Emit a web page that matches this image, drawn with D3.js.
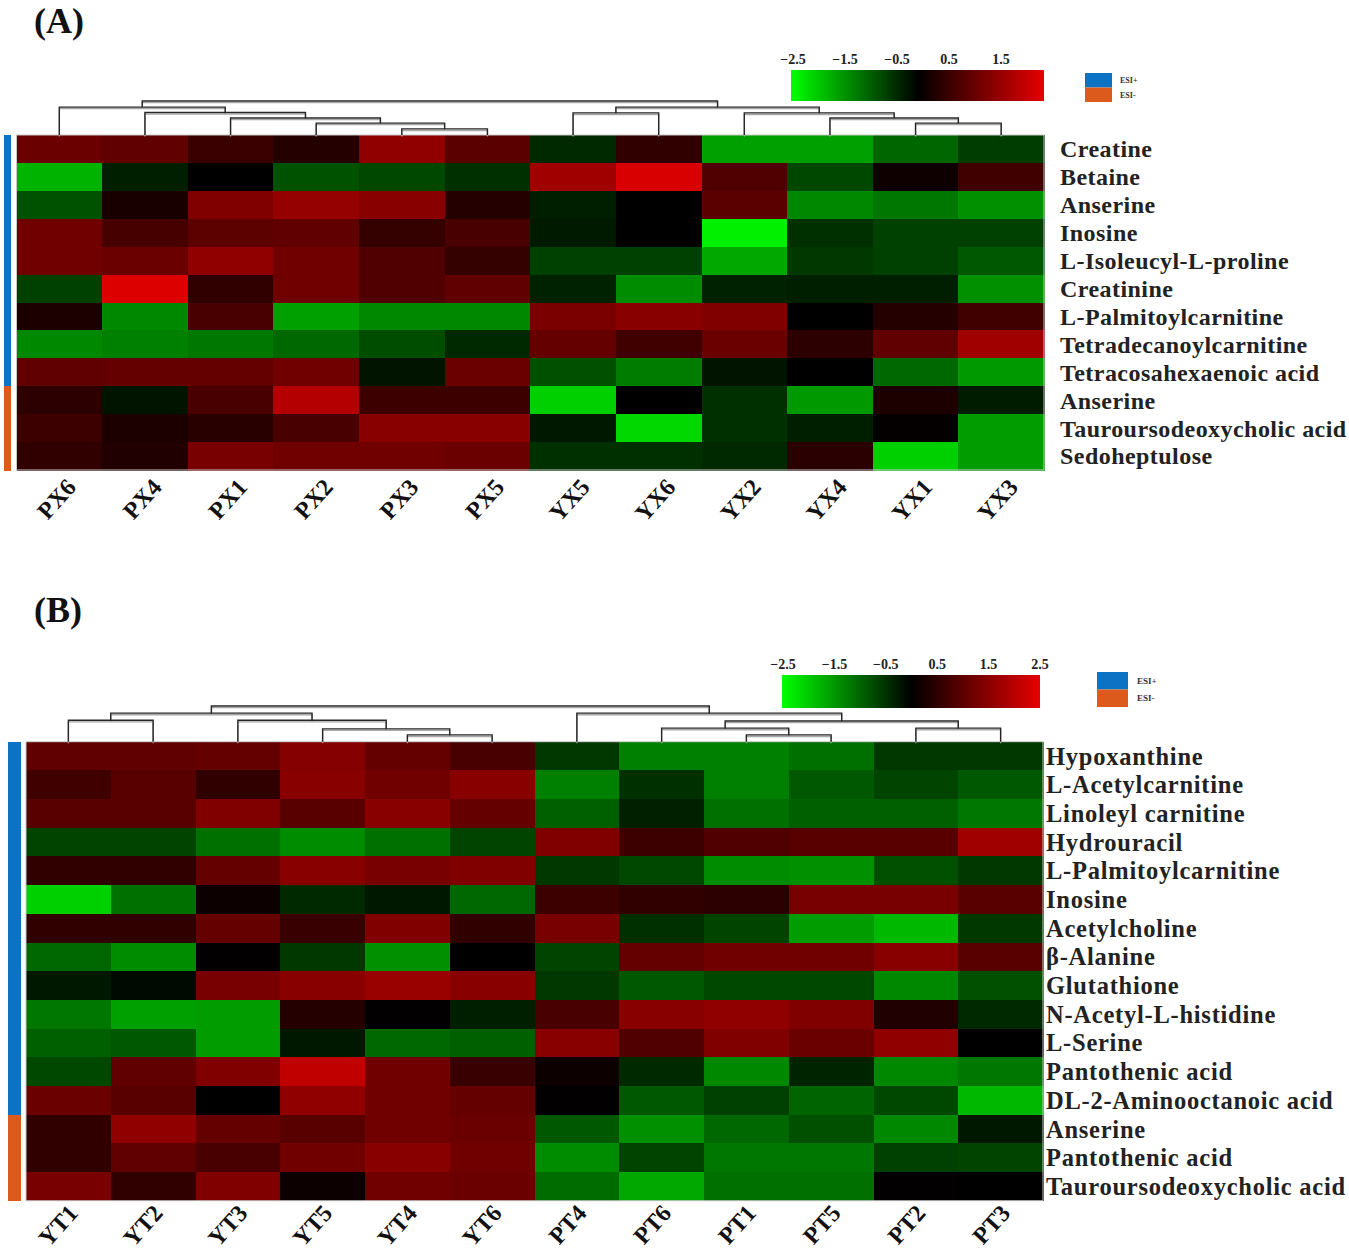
<!DOCTYPE html>
<html>
<head>
<meta charset="utf-8">
<script src="https://cdn.jsdelivr.net/npm/d3@7"></script>
<style>
  html, body { margin: 0; padding: 0; background: #fff; }
  svg { display: block; }
  text { font-family: "Liberation Serif", "Times New Roman", serif; }
</style>
</head>
<body>
<svg id="chart" width="1349" height="1258"></svg>
<script>
// ---------------- DATA ----------------
// Panel A
const colsA = ["PX6","PX4","PX1","PX2","PX3","PX5","YX5","YX6","YX2","YX4","YX1","YX3"];
const rowsA = ["Creatine","Betaine","Anserine","Inosine","L-Isoleucyl-L-proline","Creatinine",
  "L-Palmitoylcarnitine","Tetradecanoylcarnitine","Tetracosahexaenoic acid","Anserine",
  "Tauroursodeoxycholic acid","Sedoheptulose"];
const ionA = ["ESI+","ESI+","ESI+","ESI+","ESI+","ESI+","ESI+","ESI+","ESI+","ESI-","ESI-","ESI-"];
const valuesA = [
  [ 1.15, 1.05, 0.63, 0.40, 1.57, 0.98, -0.40, 0.52, -1.57, -1.57, -1.00, -0.60],
  [-1.75,-0.30, 0.00,-0.80,-0.70,-0.47,  1.74, 2.35,  0.87, -0.70,  0.16,  0.70],
  [-0.80, 0.26, 1.39, 1.62, 1.48, 0.40, -0.30, 0.00,  0.98, -1.33, -1.18, -1.41],
  [ 1.22, 0.76, 1.00, 1.05, 0.57, 0.78, -0.25, 0.00, -2.35, -0.47, -0.63, -0.63],
  [ 1.22, 1.15, 1.57, 1.22, 0.87, 0.57, -0.63,-0.63, -1.65, -0.55, -0.63, -0.86],
  [-0.63, 2.40, 0.52, 1.22, 0.87, 1.05, -0.33,-1.37, -0.33, -0.30, -0.30, -1.41],
  [ 0.30,-1.33, 0.78,-1.57,-1.33,-1.33,  1.33, 1.48,  1.39,  0.00,  0.40,  0.70],
  [-1.33,-1.25,-1.18,-1.02,-0.75,-0.40,  1.10, 0.70,  1.15,  0.48,  1.05,  1.74],
  [ 1.05, 1.10, 1.10, 1.22,-0.20, 1.15, -0.78,-1.22, -0.20,  0.00, -1.02, -1.50],
  [ 0.48,-0.20, 0.78, 1.96, 0.65, 0.65, -2.04, 0.00, -0.47, -1.50,  0.30, -0.27],
  [ 0.65, 0.30, 0.43, 0.78, 1.48, 1.48, -0.24,-2.12, -0.47, -0.30,  0.05, -1.53],
  [ 0.52, 0.35, 1.30, 1.22, 1.22, 1.15, -0.47,-0.47, -0.40,  0.46, -2.04, -1.53]
];
// column dendrogram A: [mergeHeight, left, right]; leaves are column names
const colTreeA = [1.0,
  [0.82, "PX6", [0.66, "PX4", [0.5, "PX1", [0.35, "PX2", [0.18, "PX3", "PX5"]]]]],
  [0.82, [0.65, "YX5", "YX6"], [0.65, "YX2", [0.5, "YX4", [0.35, "YX1", "YX3"]]]]
];
const legendTicksA = [-2.5, -1.5, -0.5, 0.5, 1.5];

// Panel B
const colsB = ["YT1","YT2","YT3","YT5","YT4","YT6","PT4","PT6","PT1","PT5","PT2","PT3"];
const rowsB = ["Hypoxanthine","L-Acetylcarnitine","Linoleyl carnitine","Hydrouracil",
  "L-Palmitoylcarnitine","Inosine","Acetylcholine","\u03B2-Alanine","Glutathione",
  "N-Acetyl-L-histidine","L-Serine","Pantothenic acid","DL-2-Aminooctanoic acid",
  "Anserine","Pantothenic acid","Tauroursodeoxycholic acid"];
const ionB = ["ESI+","ESI+","ESI+","ESI+","ESI+","ESI+","ESI+","ESI+","ESI+","ESI+","ESI+","ESI+","ESI+",
  "ESI-","ESI-","ESI-"];
const valuesB = [
  [ 1.05, 1.05, 1.10, 1.45, 1.10, 0.78, -0.55,-1.25,-1.25,-1.10,-0.55,-0.55],
  [ 0.70, 0.96, 0.52, 1.48, 1.22, 1.48, -1.25,-0.47,-1.25,-0.86,-0.67,-0.86],
  [ 0.96, 0.96, 1.39, 0.96, 1.48, 1.10, -0.94,-0.31,-1.10,-0.94,-0.94,-1.18],
  [-0.67,-0.67,-1.10,-1.37,-1.10,-0.67,  1.39, 0.65, 0.87, 0.96, 0.96, 1.74],
  [ 0.52, 0.52, 1.10, 1.48, 1.30, 1.39, -0.55,-0.70,-1.37,-1.41,-0.78,-0.55],
  [-2.04,-1.10, 0.13,-0.40,-0.24,-1.02,  0.65, 0.52, 0.48, 1.30, 1.30, 0.96],
  [ 0.52, 0.52, 1.10, 0.61, 1.39, 0.52,  1.30,-0.47,-0.67,-1.53,-1.80,-0.55],
  [-1.02,-1.37, 0.02,-0.55,-1.41, 0.00, -0.67, 1.10, 1.22, 1.22, 1.48, 0.96],
  [-0.24,-0.10, 1.30, 1.48, 1.66, 1.48, -0.55,-0.86,-0.70,-0.70,-1.33,-0.78],
  [-1.18,-1.57,-1.53, 0.40, 0.02,-0.30,  0.78, 1.48, 1.57, 1.39, 0.35,-0.40],
  [-0.94,-0.86,-1.53,-0.24,-1.02,-0.94,  1.48, 0.87, 1.39, 1.15, 1.57, 0.00],
  [-0.70, 1.05, 1.39, 2.09, 1.22, 0.61,  0.13,-0.40,-1.33,-0.35,-1.33,-1.18],
  [ 1.15, 0.96, 0.00, 1.57, 1.22, 1.10,  0.02,-0.86,-0.63,-0.98,-0.70,-1.80],
  [ 0.52, 1.57, 1.10, 0.96, 1.22, 1.15, -0.86,-1.41,-1.02,-0.78,-1.33,-0.24],
  [ 0.52, 1.05, 0.78, 1.22, 1.48, 1.22, -1.37,-0.67,-1.18,-1.18,-0.63,-0.67],
  [ 1.30, 0.52, 1.39, 0.13, 1.22, 1.15, -1.06,-1.65,-1.10,-1.10, 0.02, 0.00]
];
const colTreeB = [1.0,
  [0.8, [0.6, "YT1", "YT2"], [0.6, "YT3", [0.36, "YT5", [0.19, "YT4", "YT6"]]]],
  [0.8, "PT4", [0.58, [0.38, "PT6", [0.19, "PT1", "PT5"]], [0.38, "PT2", "PT3"]]]
];
const legendTicksB = [-2.5, -1.5, -0.5, 0.5, 1.5, 2.5];

const ionTypes = ["ESI+", "ESI-"];

// ---------------- STYLE / LAYOUT ----------------
const color = d3.scaleLinear()
  .domain([-2.5, 0, 2.5])
  .range(["#00ff00", "#000000", "#e60000"])
  .clamp(true);
const ionColor = d3.scaleOrdinal().domain(ionTypes).range(["#0b72c4", "#db5a1c"]);

const svg = d3.select("#chart");

const panels = [
  {
    title: "(A)", titleY: 33,
    cols: colsA, rows: rowsA, ion: ionA, values: valuesA, tree: colTreeA, ticks: legendTicksA,
    hx0: 16.5, hx1: 1044, hy0: 135, hy1: 470, treeTop: 101,
    sideX: 4, sideW: 7,
    labelX: 1060, labelSize: 24, labelSpacing: 0.45,
    colLabelDX: 18, colLabelY: 488,
    legX0: 791, legX1: 1044, legY: 70, legH: 31, legTickX0: 793, legTickX1: 1053, legTickY: 64,
    esiX: 1085, esiY: 73, esiW: 27, esiH: 14.5, esiTextX: 1120, esiSize: 8
  },
  {
    title: "(B)", titleY: 622,
    cols: colsB, rows: rowsB, ion: ionB, values: valuesB, tree: colTreeB, ticks: legendTicksB,
    hx0: 26, hx1: 1043, hy0: 741.7, hy1: 1200.7, treeTop: 706,
    sideX: 8, sideW: 13,
    labelX: 1046, labelSize: 24.5, labelSpacing: 0.75,
    colLabelDX: 11, colLabelY: 1214,
    legX0: 782, legX1: 1040, legY: 675, legH: 33, legTickX0: 783, legTickX1: 1040, legTickY: 669,
    esiX: 1097, esiY: 672, esiW: 31, esiH: 17.5, esiTextX: 1137, esiSize: 9
  }
];

panels.forEach((p, pi) => {
  const g = svg.append("g");

  // title
  g.append("text")
    .attr("x", 34).attr("y", p.titleY)
    .attr("font-size", 36).attr("font-weight", "bold").attr("fill", "#111")
    .text(p.title);

  const x = d3.scaleBand().domain(p.cols).range([p.hx0, p.hx1]);
  const y = d3.scaleBand().domain(d3.range(p.rows.length)).range([p.hy0, p.hy1]);

  // heatmap cells
  const cells = [];
  p.values.forEach((row, ri) => row.forEach((v, ci) => cells.push({r: ri, c: p.cols[ci], v})));
  g.append("g").selectAll("rect").data(cells).join("rect")
    .attr("x", d => x(d.c)).attr("y", d => y(d.r))
    .attr("width", x.bandwidth() + 0.5).attr("height", y.bandwidth() + 0.5)
    .attr("fill", d => color(d.v))
    .attr("shape-rendering", "crispEdges");
  g.append("rect")
    .attr("x", p.hx0).attr("y", p.hy0)
    .attr("width", p.hx1 - p.hx0).attr("height", p.hy1 - p.hy0)
    .attr("fill", "none").attr("stroke", "#c8c8c8").attr("stroke-width", 1);

  // side ion bar
  g.append("g").selectAll("rect").data(p.ion).join("rect")
    .attr("x", p.sideX).attr("y", (d, i) => y(i))
    .attr("width", p.sideW).attr("height", y.bandwidth() + 0.5)
    .attr("fill", d => ionColor(d))
    .attr("shape-rendering", "crispEdges");

  // row labels
  g.append("g").selectAll("text").data(p.rows).join("text")
    .attr("x", p.labelX)
    .attr("y", (d, i) => y(i) + y.bandwidth() / 2)
    .attr("dy", "0.35em")
    .attr("font-size", p.labelSize).attr("font-weight", "bold")
    .attr("letter-spacing", p.labelSpacing)
    .attr("fill", "#222")
    .text(d => d);

  // column labels
  g.append("g").selectAll("text").data(p.cols).join("text")
    .attr("transform", d => `translate(${x(d) + x.bandwidth() / 2 + p.colLabelDX},${p.colLabelY}) rotate(-48)`)
    .attr("text-anchor", "end")
    .attr("font-size", 24).attr("font-weight", "bold")
    .attr("fill", "#111")
    .text(d => d);

  // dendrogram
  const hy = d3.scaleLinear().domain([0, 1]).range([p.hy0, p.treeTop]);
  const root = d3.hierarchy(p.tree, d => Array.isArray(d) ? d.slice(1) : null);
  root.eachAfter(n => {
    if (!n.children) { n.px = x(n.data) + x.bandwidth() / 2; n.h = 0; }
    else { n.h = n.data[0]; n.px = d3.mean(n.children, c => c.px); }
  });
  const links = root.descendants().filter(n => n.children);
  const pathOf = n => {
    const [a, b] = n.children;
    return `M${a.px},${hy(a.h)}V${hy(n.h)}H${b.px}V${hy(b.h)}`;
  };
  const tg = g.append("g").attr("fill", "none");
  tg.selectAll("path.shadow").data(links).join("path")
    .attr("class", "shadow")
    .attr("d", pathOf)
    .attr("transform", "translate(0,1.6)")
    .attr("stroke", "#a8a8a8").attr("stroke-width", 1.3);
  tg.selectAll("path.main").data(links).join("path")
    .attr("class", "main")
    .attr("d", pathOf)
    .attr("stroke", "#262626").attr("stroke-width", 1.4);

  // colour legend
  const gradId = "grad" + pi;
  const grad = svg.append("defs").append("linearGradient").attr("id", gradId)
    .attr("x1", "0%").attr("x2", "100%").attr("y1", "0%").attr("y2", "0%");
  d3.range(-2.5, 2.51, 0.25).forEach(v => {
    grad.append("stop").attr("offset", ((v + 2.5) / 5 * 100) + "%").attr("stop-color", color(v));
  });
  g.append("rect")
    .attr("x", p.legX0).attr("y", p.legY)
    .attr("width", p.legX1 - p.legX0).attr("height", p.legH)
    .attr("fill", `url(#${gradId})`);
  const lx = d3.scaleLinear().domain([-2.5, 2.5]).range([p.legTickX0, p.legTickX1]);
  g.append("g").selectAll("text").data(p.ticks).join("text")
    .attr("x", d => lx(d)).attr("y", p.legTickY)
    .attr("text-anchor", "middle")
    .attr("font-size", 14).attr("font-weight", "bold").attr("fill", "#222")
    .text(d => d3.format(".1f")(d));

  // ESI legend
  const eg = g.append("g");
  ionTypes.forEach((t, i) => {
    eg.append("rect")
      .attr("x", p.esiX).attr("y", p.esiY + i * p.esiH)
      .attr("width", p.esiW).attr("height", p.esiH)
      .attr("fill", ionColor(t));
    eg.append("text")
      .attr("x", p.esiTextX).attr("y", p.esiY + i * p.esiH + p.esiH / 2)
      .attr("dy", "0.35em")
      .attr("font-size", p.esiSize).attr("font-weight", "bold").attr("fill", "#333")
      .text(t);
  });
});
</script>
</body>
</html>
